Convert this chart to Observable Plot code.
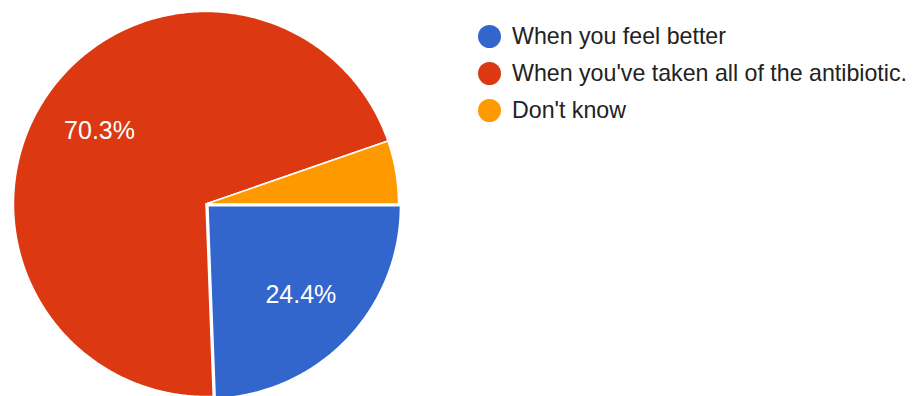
<!DOCTYPE html>
<html>
<head>
<meta charset="utf-8">
<script src="https://cdn.jsdelivr.net/npm/d3@7"></script>
<script src="https://cdn.jsdelivr.net/npm/@observablehq/plot@0.6"></script>
<style>
  html, body { margin: 0; padding: 0; background: #fff; }
  #wrap { position: relative; width: 921px; height: 396px; overflow: hidden; font-family: Arial, "Liberation Sans", sans-serif; }
  #legend { position: absolute; left: 478px; top: 18px; }
  .row { display: flex; align-items: center; height: 37.2px; }
  .sw { width: 23px; height: 23px; border-radius: 50%; margin-right: 11px; flex: none; }
  .lab { font-size: 23.2px; color: #222; white-space: nowrap; }
</style>
</head>
<body>
<div id="wrap"><div id="legend"></div></div>
<script>
// Data
const categories = ["When you feel better", "When you've taken all of the antibiotic.", "Don't know"];
const percents = [24.4, 70.3, 5.3];
const colors = ["#3366cc", "#dc3912", "#ff9900"];

// Layout constants
const cx = 205.5, cy = 203.5, r = 192.5;
const explodedSlice = categories[0];
const explodeAmount = 0.014;
const labelRadius = 0.67;
const labelMinPercent = 10;

const arcs = d3.pie().sort(null)
  .startAngle(Math.PI / 2)
  .endAngle(Math.PI / 2 + 2 * Math.PI)(percents);

const pts = [];
const labels = [];
arcs.forEach((a, i) => {
  const name = categories[i];
  const mid = (a.startAngle + a.endAngle) / 2;
  const off = name === explodedSlice ? explodeAmount : 0;
  const ox = off * Math.sin(mid), oy = off * Math.cos(mid);
  pts.push({name, x: ox, y: oy});
  const n = Math.max(2, Math.ceil((a.endAngle - a.startAngle) / (Math.PI / 360)));
  for (let k = 0; k <= n; k++) {
    const t = a.startAngle + (a.endAngle - a.startAngle) * k / n;
    pts.push({name, x: ox + Math.sin(t), y: oy + Math.cos(t)});
  }
  pts.push({name, x: ox, y: oy});
  if (percents[i] >= labelMinPercent) {
    labels.push({name, text: percents[i].toFixed(1) + "%",
      x: ox + labelRadius * Math.sin(mid), y: oy + labelRadius * Math.cos(mid)});
  }
});

const chart = Plot.plot({
  width: 921,
  height: 396,
  margin: 0,
  x: {domain: [-1, 1], range: [cx - r, cx + r], axis: null},
  y: {domain: [-1, 1], range: [cy + r, cy - r], axis: null},
  color: {domain: categories, range: colors},
  style: {fontFamily: "Arial, 'Liberation Sans', sans-serif", background: "white"},
  marks: [
    Plot.line(pts, {x: "x", y: "y", z: "name", fill: "name", stroke: "white", strokeWidth: 1.5, curve: "linear"}),
    Plot.text(labels, {x: "x", y: "y", text: "text", fill: "white", fontSize: 25})
  ]
});
document.getElementById("wrap").prepend(chart);

const legend = document.getElementById("legend");
categories.forEach((c, i) => {
  const row = document.createElement("div");
  row.className = "row";
  const sw = document.createElement("span");
  sw.className = "sw";
  sw.style.background = colors[i];
  const lab = document.createElement("span");
  lab.className = "lab";
  lab.textContent = c;
  row.append(sw, lab);
  legend.append(row);
});
</script>
</body>
</html>
